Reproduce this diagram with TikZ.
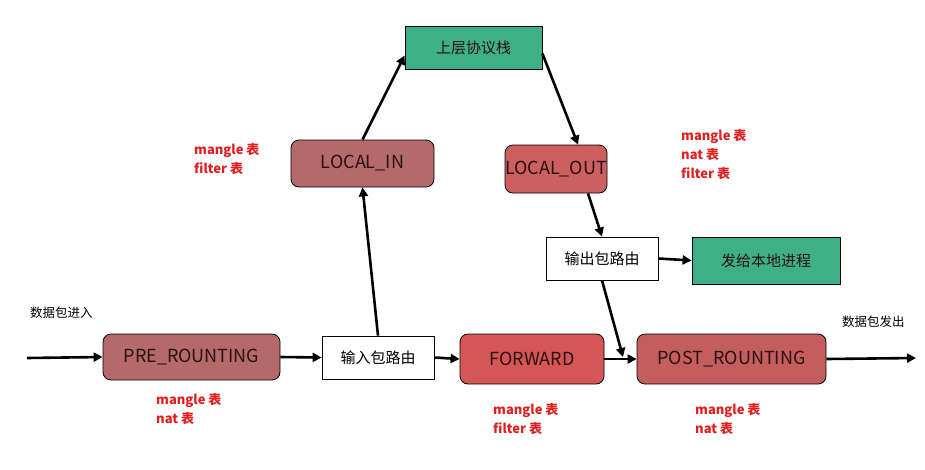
\documentclass[tikz,border=0pt]{standalone}
\usepackage{fontspec}
\setmainfont{Noto Sans CJK SC}
\usetikzlibrary{arrows.meta}
\definecolor{mauve}{HTML}{B46A6A}
\definecolor{redA}{HTML}{D45656}
\definecolor{redB}{HTML}{CC6060}
\definecolor{redC}{HTML}{C45E5E}
\definecolor{greenA}{HTML}{3DB088}
\definecolor{lbl}{HTML}{E02020}
\definecolor{boxtext}{HTML}{2A1010}
\tikzset{
  hook/.style={draw=black, line width=0.8pt, rounded corners=8pt, inner sep=0pt, text=boxtext, font=\fontsize{18}{20}\selectfont},
  plainbox/.style={draw=black, line width=0.8pt, fill=white, inner sep=0pt, font=\fontsize{15}{17}\selectfont},
  greenbox/.style={draw=black, line width=0.8pt, fill=greenA, inner sep=0pt, text=boxtext, font=\fontsize{15}{17}\selectfont},
  arr/.style={line width=2.6pt, -{Triangle[length=9pt,width=9pt]}},
  tbl/.style={text=lbl, font=\bfseries\fontsize{13}{19}\selectfont, align=left, anchor=north west, inner sep=0pt},
  plain/.style={font=\fontsize{12.5}{14}\selectfont, inner sep=0pt}
}
\begin{document}
\begin{tikzpicture}[x=1pt,y=-1pt]
\useasboundingbox (0,0) rectangle (925,469);
% nodes
\node[hook, fill=mauve, minimum width=177pt, minimum height=46pt] (pre) at (191.5,357) {PRE\_ROUNTING};
\node[plainbox, minimum width=112pt, minimum height=43pt] (inr) at (378,357.5) {输入包路由};
\node[hook, fill=redA, minimum width=144pt, minimum height=50pt] (fwd) at (532,359) {FORWARD};
\node[hook, fill=redC, minimum width=189pt, minimum height=50pt] (post) at (731.5,359) {POST\_ROUNTING};
\node[hook, fill=mauve, minimum width=143pt, minimum height=47pt] (lin) at (362.5,163.5) {LOCAL\_IN};
\node[greenbox, minimum width=137pt, minimum height=43pt] (up) at (473.5,47.5) {上层协议栈};
\node[hook, fill=redB, minimum width=98pt, minimum height=48pt] (lout) at (556,169) {LOCAL\_OUT};
\node[plainbox, minimum width=112pt, minimum height=43pt] (outr) at (602,258.5) {输出包路由};
\node[greenbox, minimum width=148pt, minimum height=47pt] (loc) at (766,260.5) {发给本地进程};
% free ends
\coordinate (start) at (27,358);
\coordinate (end) at (916,358);
\coordinate (joinpt) at (623,357);
% labels
\node[plain, anchor=west] (inlbl) at (30,313) {数据包进入};
\node[plain, anchor=west] (outlbl) at (842,322) {数据包发出};
\node[tbl] (t1) at (194,143) {mangle 表\\filter 表};
\node[tbl] (t2) at (681,129) {mangle 表\\nat 表\\filter 表};
\node[tbl] (t3) at (156,393) {mangle 表\\nat 表};
\node[tbl] (t4) at (493,403) {mangle 表\\filter 表};
\node[tbl] (t5) at (695,403) {mangle 表\\nat 表};
% connectors
\draw[arr] (start) -- (pre.west);
\draw[arr] (pre.east) -- (inr.west);
\draw[arr] (inr.east) -- (fwd.west);
\draw[arr] (fwd.east) -- (post.west);
\draw[arr] (post.east) -- (end);
\draw[arr] (inr.north) -- (lin.south);
\draw[arr] (lin.north) -- ([yshift=-8pt]up.west);
\draw[arr] ([yshift=-6pt]up.east) -- ([xshift=22pt]lout.north);
\draw[arr] ([xshift=32pt]lout.south) -- (outr.north);
\draw[arr] (outr.east) -- (loc.west);
\draw[arr] (outr.south) -- (joinpt);
\end{tikzpicture}
\end{document}
